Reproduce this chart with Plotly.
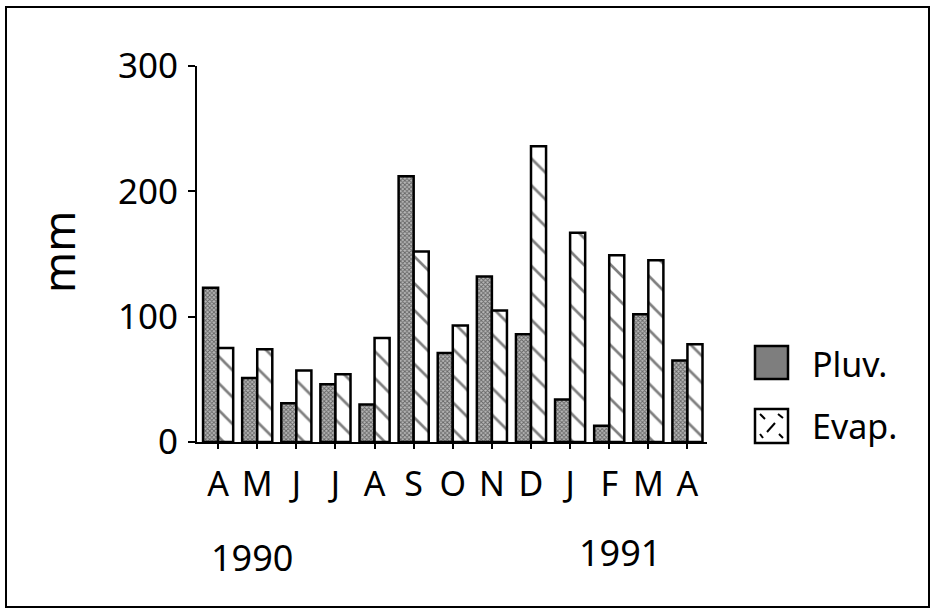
import plotly.graph_objects as go

months = ["A", "M", "J", "J", "A", "S", "O", "N", "D", "J", "F", "M", "A"]
pluv = [123, 51, 31, 46, 30, 212, 71, 132, 86, 34, 13, 102, 65]
evap = [75, 74, 57, 54, 83, 152, 93, 105, 236, 167, 149, 145, 78]
y_ticks = [0, 100, 200, 300]
years = ["1990", "1991"]

FONT = "Noto Sans"
x_idx = list(range(len(months)))

# plot area geometry (pixels)
L, R, T, B = 197, 707, 66, 442
W, H = 932, 612
pw, ph = R - L, B - T


def px(x):
    return (x - L) / pw


def py(y):
    return (B - y) / ph


fig = go.Figure()
fig.add_trace(go.Bar(
    x=x_idx, y=pluv, name="Pluv.",
    marker=dict(color="#8a8a8a",
                line=dict(color="black", width=2.5),
                pattern=dict(shape="x", size=3, solidity=0.5,
                             fgcolor="#111111", bgcolor="#b8b8b8")),
    showlegend=False,
))
fig.add_trace(go.Bar(
    x=x_idx, y=evap, name="Evap.",
    marker=dict(color="white",
                line=dict(color="black", width=2.5),
                pattern=dict(shape="\\", size=19, solidity=0.14,
                             fgcolor="black", bgcolor="white")),
    showlegend=False,
))

shapes = []
# outer frame
shapes.append(dict(type="rect", xref="paper", yref="paper",
                   x0=px(6), x1=px(929), y0=py(607), y1=py(7),
                   line=dict(color="black", width=2), fillcolor="rgba(0,0,0,0)"))
# legend boxes
shapes.append(dict(type="rect", xref="paper", yref="paper",
                   x0=px(755), x1=px(788), y0=py(379), y1=py(346),
                   line=dict(color="black", width=2.5), fillcolor="#7e7e7e"))
shapes.append(dict(type="rect", xref="paper", yref="paper",
                   x0=px(755), x1=px(788), y0=py(443), y1=py(409),
                   line=dict(color="black", width=2.5), fillcolor="white"))
for (x0, y0, x1, y1) in [(760, 414, 765, 419), (778, 414, 783, 418),
                         (767, 432, 775, 423), (760, 434, 763, 438),
                         (779, 434, 783, 438)]:
    shapes.append(dict(type="line", xref="paper", yref="paper",
                       x0=px(x0), y0=py(y0), x1=px(x1), y1=py(y1),
                       line=dict(color="black", width=2)))

annotations = [
    dict(text="Pluv.", xref="paper", yref="paper", x=px(810), y=py(364),
         xanchor="left", yanchor="middle", showarrow=False,
         font=dict(family=FONT, size=34, color="black")),
    dict(text="Evap.", xref="paper", yref="paper", x=px(810), y=py(426),
         xanchor="left", yanchor="middle", showarrow=False,
         font=dict(family=FONT, size=34, color="black")),
    dict(text=years[0], xref="paper", yref="paper", x=px(252), y=py(557),
         xanchor="center", yanchor="middle", showarrow=False,
         font=dict(family=FONT, size=36, color="black")),
    dict(text=years[1], xref="paper", yref="paper", x=px(620), y=py(552),
         xanchor="center", yanchor="middle", showarrow=False,
         font=dict(family=FONT, size=36, color="black")),
    dict(text="mm", xref="paper", yref="paper", x=px(58), y=py(252),
         xanchor="center", yanchor="middle", showarrow=False, textangle=-90,
         font=dict(family=FONT, size=44, color="black")),
]

fig.update_layout(
    width=W, height=H,
    margin=dict(l=L, r=W - R, t=T, b=H - B, pad=0),
    paper_bgcolor="white", plot_bgcolor="white",
    barmode="group", bargap=0.23, bargroupgap=0,
    shapes=shapes, annotations=annotations,
    font=dict(family=FONT, color="black"),
    xaxis=dict(
        range=[-0.54, 12.5], tickmode="array", tickvals=x_idx, ticktext=months,
        showline=True, linecolor="black", linewidth=2,
        ticks="outside", tickson="boundaries", ticklen=5, tickwidth=1.5,
        tickcolor="black", showgrid=False, zeroline=False,
        ticklabelstandoff=6,
        tickfont=dict(family=FONT, size=34, color="black"),
    ),
    yaxis=dict(
        range=[0, 300], tickmode="array", tickvals=y_ticks,
        showline=True, linecolor="black", linewidth=2,
        ticks="outside", ticklen=7, tickwidth=2, tickcolor="black",
        showgrid=False, zeroline=False, ticklabelstandoff=3,
        tickfont=dict(family=FONT, size=35, color="black"),
    ),
)

fig.write_html("out.html",
               config={"displayModeBar": False},
               post_script="document.body.style.margin='0';"
                           "document.body.style.overflow='hidden';")
